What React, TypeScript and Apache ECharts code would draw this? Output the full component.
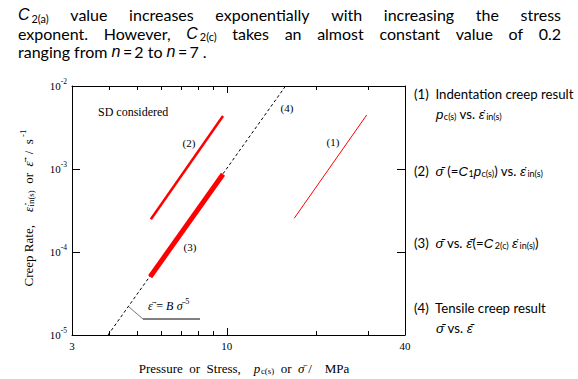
import React, { useEffect, useRef } from 'react';
import * as echarts from 'echarts';

// ---------- data ----------
const xLabelValues = [3, 10, 40];
const xMinorTickValues = [4, 5, 6, 7, 8, 9, 20, 30];
const xMajorTickValues = [10];
const yLabelValues = [1e-5, 1e-4, 1e-3, 1e-2];
const yTickValues = [1e-4, 1e-3];

// (1) Indentation creep result: p_c(s) vs strain rate
const line1 = [[16.9, 2.55e-4], [29.7, 4.48e-3]];
// (2) sigma (=C1 p_c(s)) vs strain rate
const line2 = [[5.54, 2.48e-4], [9.71, 4.35e-3]];
// (3) sigma vs equivalent strain rate
const line3 = [[5.51, 5.04e-5], [9.71, 8.63e-4]];
// (4) Tensile creep result (power law, n = 5)
const line4 = [[3.97, 1.0e-5], [15.8, 1.0e-2]];

// ---------- text helpers ----------
type Seg = { t: string; i?: boolean; sub?: boolean; sup?: boolean };
const SERIF = 'Liberation Serif';
const SANS = 'Lato';
const EDOT = '\u03b5\u0307';
const EBARDOT = '\u03b5\u0304\u0307';
const SBAR = '\u03c3\u0304';

function italicFamily(family: string) {
  return family === SANS ? 'Liberation Sans' : family;
}

function fontStr(size: number, family: string, italic: boolean) {
  return `${italic ? 'italic ' : ''}${size}px "${italic ? italicFamily(family) : family}"`;
}

let _ctx: CanvasRenderingContext2D | null = null;
function measure(t: string, size: number, family: string, italic: boolean) {
  if (!_ctx) _ctx = document.createElement('canvas').getContext('2d');
  _ctx!.font = fontStr(size, family, italic);
  return _ctx!.measureText(t).width;
}

function run(segs: Seg[], size: number, family: string) {
  let x = 0;
  const els: any[] = [];
  for (const s of segs) {
    const small = s.sub || s.sup;
    const fs = small ? size * 0.68 : size;
    const dy = s.sub ? size * 0.22 : s.sup ? -size * 0.38 : 0;
    const w = measure(s.t, fs, family, !!s.i);
    els.push({
      type: 'text',
      x,
      y: dy,
      silent: true,
      style: {
        text: s.t,
        font: fontStr(fs, family, !!s.i),
        fontSize: fs,
        fontFamily: s.i ? italicFamily(family) : family,
        fontStyle: s.i ? 'italic' : 'normal',
        fill: '#000',
        align: 'left',
        verticalAlign: 'middle',
      },
    });
    x += w + (s.i && !small ? size * 0.04 : 0);
  }
  return { els, width: x };
}

function placeRun(segs: Seg[], size: number, family: string, x: number, y: number, anchor: 'left' | 'center' = 'left', rotation = 0) {
  const r = run(segs, size, family);
  const off = anchor === 'center' ? -r.width / 2 : 0;
  r.els.forEach((e) => (e.x += off));
  return { type: 'group', x, y, rotation, children: r.els };
}

function toSegs(w: string | Seg[]): Seg[] {
  return typeof w === 'string' ? [{ t: w }] : w;
}

function justifyLine(words: (string | Seg[])[], size: number, family: string, x0: number, x1: number, y: number) {
  const runs = words.map((w) => run(toSegs(w), size, family));
  const total = runs.reduce((a, r) => a + r.width, 0);
  const gap = (x1 - x0 - total) / (runs.length - 1);
  const children: any[] = [];
  let x = x0;
  runs.forEach((r) => {
    r.els.forEach((e) => {
      e.x += x;
      e.y += y;
      children.push(e);
    });
    x += r.width + gap;
  });
  return { type: 'group', children };
}

// ---------- text content ----------
const para1: (string | Seg[])[] = [
  [{ t: 'C', i: true }, { t: '\u20092(a)', sub: true }],
  'value', 'increases', 'exponentially', 'with', 'increasing', 'the', 'stress',
];
const para2: (string | Seg[])[] = [
  'exponent.', 'However,',
  [{ t: 'C', i: true }, { t: '\u20092(c)', sub: true }],
  'takes', 'an', 'almost', 'constant', 'value', 'of', '0.2',
];
const para3: Seg[] = [
  { t: 'ranging from ' }, { t: 'n', i: true }, { t: '\u2009=\u20092 to ' },
  { t: 'n', i: true }, { t: '\u2009=\u20097 .' },
];

const leg1a: Seg[] = [{ t: '(1)  Indentation creep result' }];
const leg1b: Seg[] = [
  { t: 'p', i: true }, { t: 'c(s)', sub: true }, { t: ' vs. ' },
  { t: EDOT, i: true }, { t: '\u2009in(s)', sub: true },
];
const leg2: Seg[] = [
  { t: '(2)  ' }, { t: SBAR, i: true }, { t: ' (=' }, { t: 'C', i: true }, { t: '1', sub: true },
  { t: 'p', i: true }, { t: 'c(s)', sub: true }, { t: ') vs. ' },
  { t: EDOT, i: true }, { t: '\u2009in(s)', sub: true },
];
const leg3: Seg[] = [
  { t: '(3)  ' }, { t: SBAR, i: true }, { t: ' vs. ' }, { t: EBARDOT, i: true }, { t: '(=' },
  { t: 'C', i: true }, { t: '\u20092(c)', sub: true }, { t: ' ' },
  { t: EDOT, i: true }, { t: '\u2009in(s)', sub: true }, { t: ')' },
];
const leg4a: Seg[] = [{ t: '(4)  Tensile creep result' }];
const leg4b: Seg[] = [{ t: SBAR, i: true }, { t: ' vs. ' }, { t: EBARDOT, i: true }];

const yTitle: Seg[] = [
  { t: 'Creep Rate,\u2003' }, { t: EDOT, i: true }, { t: 'in(s)', sub: true },
  { t: '\u2002or\u2002' }, { t: EBARDOT, i: true }, { t: '\u2002/\u2002s' }, { t: ' -1', sup: true },
];
const xTitle: Seg[] = [
  { t: 'Pressure\u2002or\u2002Stress,\u2003' }, { t: 'p', i: true }, { t: 'c(s)', sub: true },
  { t: '\u2002or\u2002' }, { t: SBAR, i: true }, { t: ' /\u2003MPa' },
];
const eqText: Seg[] = [
  { t: EBARDOT, i: true }, { t: ' = ' }, { t: 'B', i: true }, { t: ' ' }, { t: SBAR, i: true }, { t: ' 5', sup: true },
];

export default function App() {
  const ref = useRef<HTMLDivElement>(null);
  useEffect(() => {
    if (!ref.current) return;
    const chart = echarts.init(ref.current, undefined, { renderer: 'svg' });

    const pSize = 16;
    const lSize = 13.2;

    const black = { color: '#000', width: 1 };
    const xBase = { type: 'log', logBase: 10, min: 3, max: 40, splitLine: { show: false } };
    const yBase = { type: 'log', logBase: 10, min: 1e-5, max: 1e-2, splitLine: { show: false } };

    const graphics: any[] = [
      justifyLine(para1, pSize, SANS, 18, 561, 14.8),
      justifyLine(para2, pSize, SANS, 18, 561, 33.3),
      placeRun(para3, pSize, SANS, 18, 51.6),
      placeRun(leg1a, lSize, SANS, 414, 94),
      placeRun(leg1b, lSize, SANS, 436, 114),
      placeRun(leg2, lSize, SANS, 414, 171),
      placeRun(leg3, lSize, SANS, 414, 243),
      placeRun(leg4a, lSize, SANS, 414, 308),
      placeRun(leg4b, lSize, SANS, 436, 328),
      placeRun(yTitle, 13, SERIF, 28, 208, 'center', Math.PI / 2),
      placeRun(xTitle, 13, SERIF, 244, 368, 'center'),
      placeRun([{ t: 'SD considered' }], 12, SERIF, 98, 112),
      placeRun([{ t: '(2)' }], 11, SERIF, 189, 143, 'center'),
      placeRun([{ t: '(1)' }], 11, SERIF, 333, 142, 'center'),
      placeRun([{ t: '(3)' }], 11, SERIF, 190, 247, 'center'),
      placeRun([{ t: '(4)' }], 11, SERIF, 287, 108, 'center'),
      placeRun(eqText, 12, SERIF, 148, 306),
      { type: 'line', silent: true, shape: { x1: 129, y1: 307, x2: 143, y2: 319 }, style: { stroke: '#555', lineWidth: 0.8 } },
      { type: 'line', silent: true, shape: { x1: 143, y1: 319, x2: 200, y2: 319 }, style: { stroke: '#000', lineWidth: 1 } },
    ];

    chart.setOption({
      animation: false,
      backgroundColor: '#fff',
      grid: { left: 72, top: 86, right: 173, bottom: 44, containLabel: false, outerBoundsMode: 'none' },
      xAxis: [
        {
          ...xBase, position: 'bottom',
          axisLine: { show: true, onZero: false, lineStyle: black },
          axisTick: { show: true, inside: true, length: 4, customValues: xMinorTickValues, lineStyle: black },
          axisLabel: {
            show: true, customValues: xLabelValues, color: '#000', fontFamily: SERIF, fontSize: 11, margin: 5,
            formatter: (v: number) => String(Math.round(v)),
          },
        },
        {
          ...xBase, position: 'bottom',
          axisLine: { show: false, onZero: false },
          axisTick: { show: true, inside: true, length: 7, customValues: xMajorTickValues, lineStyle: black },
          axisLabel: { show: false },
        },
        {
          ...xBase, position: 'top',
          axisLine: { show: true, onZero: false, lineStyle: black },
          axisTick: { show: true, inside: true, length: 4, customValues: xMinorTickValues, lineStyle: black },
          axisLabel: { show: false },
        },
        {
          ...xBase, position: 'top',
          axisLine: { show: false, onZero: false },
          axisTick: { show: true, inside: true, length: 7, customValues: xMajorTickValues, lineStyle: black },
          axisLabel: { show: false },
        },
      ],
      yAxis: [
        {
          ...yBase, position: 'left',
          axisLine: { show: true, onZero: false, lineStyle: black },
          axisTick: { show: true, inside: true, length: 8, customValues: yTickValues, lineStyle: black },
          axisLabel: {
            show: true, customValues: yLabelValues, margin: 5,
            formatter: (v: number) => `{b|10}{s|${Math.round(Math.log10(v))}}`,
            rich: {
              b: { fontFamily: SERIF, fontSize: 11, color: '#000', lineHeight: 18 },
              s: { fontFamily: SERIF, fontSize: 7.5, color: '#000', lineHeight: 8, verticalAlign: 'top' },
            },
          },
        },
        {
          ...yBase, position: 'right',
          axisLine: { show: true, onZero: false, lineStyle: black },
          axisTick: { show: true, inside: true, length: 8, customValues: yTickValues, lineStyle: black },
          axisLabel: { show: false },
        },
      ],
      series: [
        { type: 'line', name: '(4)', data: line4, symbol: 'none', silent: true, lineStyle: { color: '#000', width: 1, type: [3, 2.5] } },
        { type: 'line', name: '(1)', data: line1, symbol: 'none', silent: true, lineStyle: { color: '#ff0000', width: 1 } },
        { type: 'line', name: '(2)', data: line2, symbol: 'none', silent: true, lineStyle: { color: '#ff0000', width: 2.5 } },
        { type: 'line', name: '(3)', data: line3, symbol: 'none', silent: true, lineStyle: { color: '#ff0000', width: 5 } },
      ],
      graphic: graphics,
    });
    return () => chart.dispose();
  }, []);
  return (
    <div
      ref={ref}
      style={{ position: 'fixed', left: 0, top: 0, width: 578, height: 379, background: '#fff' }}
    />
  );
}
